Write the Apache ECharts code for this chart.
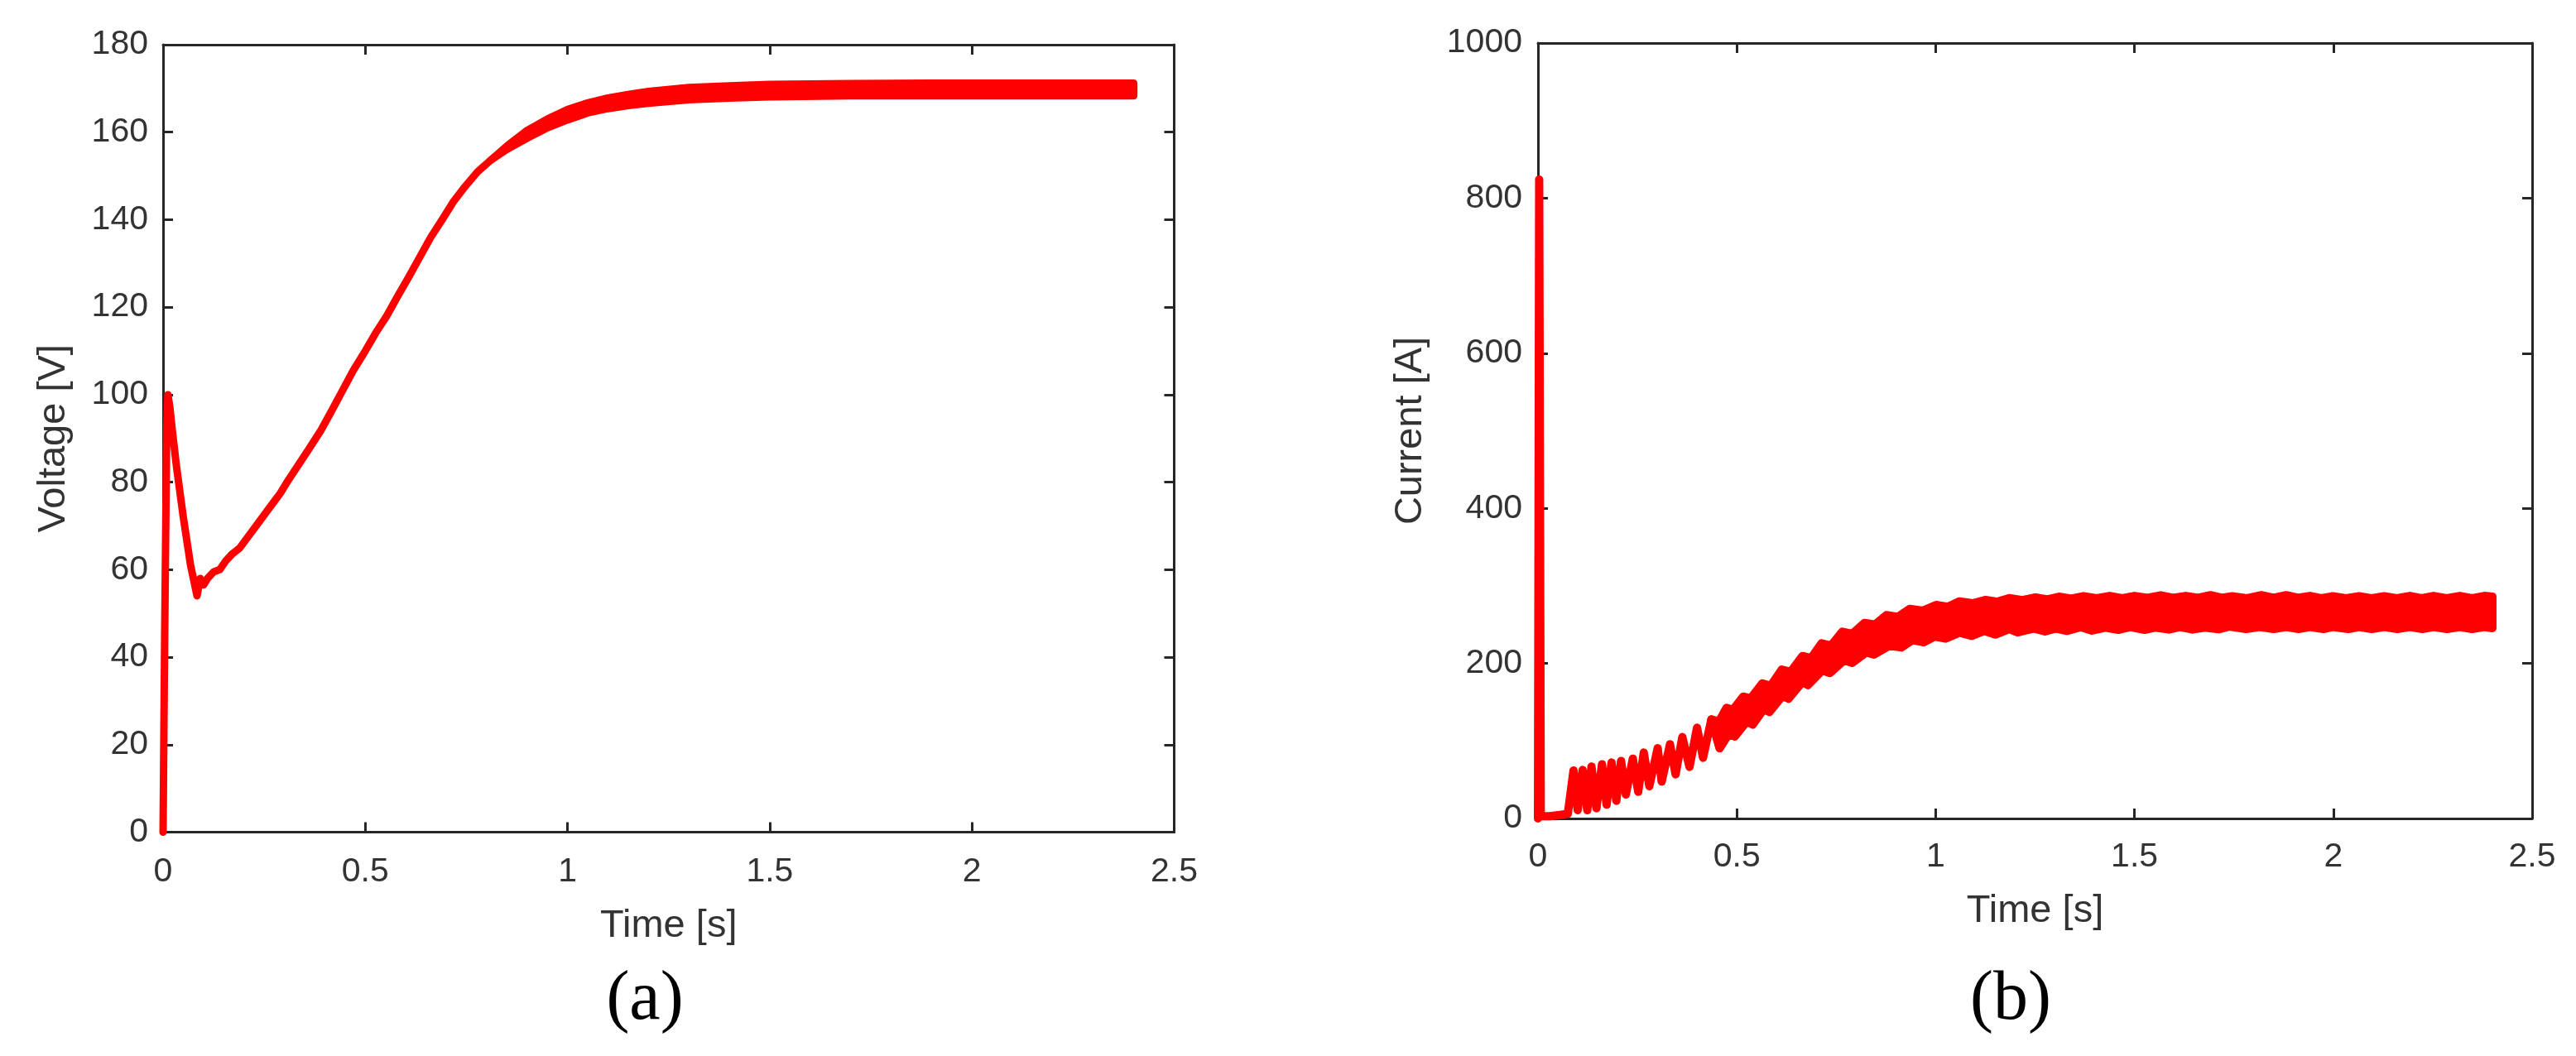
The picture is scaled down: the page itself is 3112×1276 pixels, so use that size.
<!DOCTYPE html>
<html><head><meta charset="utf-8">
<script src="https://cdn.jsdelivr.net/npm/echarts@6/dist/echarts.min.js"></script>
<style>html,body{margin:0;padding:0;background:#fff;} #c{width:3112px;height:1276px;}</style>
</head><body><div id="c"></div>
<script>
// ---- tick labels ----
const timeTicks = [0, 0.5, 1, 1.5, 2, 2.5];
const voltageTicks = [0, 20, 40, 60, 80, 100, 120, 140, 160, 180];
const currentTicks = [0, 200, 400, 600, 800, 1000];

// ---- (a) voltage, centre line ----
const voltT = [0, 0.004, 0.009, 0.012, 0.017, 0.022, 0.033, 0.05, 0.068, 0.084, 0.092, 0.1, 0.11, 0.125, 0.14, 0.155, 0.17, 0.19, 0.21, 0.23, 0.25, 0.27, 0.29, 0.31, 0.335, 0.36, 0.39, 0.415, 0.444, 0.47, 0.5, 0.525, 0.553, 0.58, 0.608, 0.635, 0.662, 0.69, 0.717, 0.746, 0.778, 0.81, 0.851, 0.9, 0.955, 1.0, 1.059, 1.12, 1.195, 1.3, 1.4, 1.5, 1.7, 2.0, 2.4];
const voltV = [0, 45, 92, 100, 97, 92.5, 83.7, 72, 61, 54, 58, 56.5, 58, 59.5, 60, 62, 63.5, 65, 67.5, 70, 72.5, 75, 77.5, 80.5, 84, 87.5, 91.8, 96, 101, 105.5, 110, 114, 118, 122.5, 127, 131.5, 136, 140, 144, 147.5, 151, 153.6, 156.5, 159.5, 162, 164, 165.6, 167, 168, 168.8, 169.2, 169.5, 169.6, 169.7, 169.7];
// ---- (a) voltage ripple band ----
const voltBandT = [0.81, 0.851, 0.9, 0.95, 1.0, 1.05, 1.1, 1.15, 1.2, 1.3, 1.4, 1.5, 1.7, 1.9, 2.1, 2.3, 2.4];
const voltBandUp = [153.6, 156.9, 160.4, 163, 165.2, 166.7, 167.8, 168.6, 169.3, 170.2, 170.6, 170.9, 171.1, 171.2, 171.2, 171.2, 171.2];
const voltBandLo = [153.6, 156.1, 158.6, 161, 162.8, 164.4, 165.4, 166.1, 166.6, 167.4, 167.8, 168.1, 168.3, 168.3, 168.3, 168.3, 168.3];

// ---- (b) current: start-up spike and early oscillation ----
const curT = [0, 0.003, 0.007, 0.03, 0.055, 0.075, 0.0894, 0.0998, 0.1123, 0.124, 0.1345, 0.147, 0.161, 0.1726, 0.185, 0.197, 0.209, 0.221, 0.2385, 0.252, 0.266, 0.280, 0.301, 0.311, 0.332, 0.346, 0.363, 0.381, 0.400, 0.415, 0.436, 0.457];
const curV = [0, 824, 3, 3, 4.5, 6, 61.9, 10.7, 62.6, 10.7, 66.9, 13.2, 70, 17.8, 72.2, 22.8, 74.3, 31, 77.2, 34.5, 85, 41.6, 90.7, 47.7, 95.7, 56.9, 105, 66.5, 117, 78.3, 127.7, 90.7];
// ---- (b) current ripple band: upper envelope ----
const curUpT = [0.436, 0.455, 0.474, 0.49, 0.516, 0.535, 0.564, 0.585, 0.613, 0.635, 0.665, 0.687, 0.713, 0.737, 0.765, 0.79, 0.821, 0.847, 0.876, 0.905, 0.935, 0.968, 1.001, 1.03, 1.06, 1.093, 1.126, 1.155, 1.185, 1.218, 1.251, 1.28, 1.31, 1.341, 1.372, 1.405, 1.438, 1.469, 1.5, 1.533, 1.566, 1.597, 1.629, 1.66, 1.691, 1.72, 1.746, 1.783, 1.819, 1.85, 1.882, 1.911, 1.941, 1.97, 1.999, 2.032, 2.065, 2.096, 2.128, 2.16, 2.193, 2.222, 2.252, 2.285, 2.318, 2.349, 2.38, 2.4];
const curUpV = [127.7, 125, 142.7, 140, 157.2, 155, 174.3, 171, 192, 189, 209.5, 207, 225.9, 223, 240.8, 238, 252.2, 250, 262.2, 260, 270.4, 268, 275.3, 273, 280, 277.5, 281.8, 279.5, 284.2, 281.5, 285, 282.5, 286, 283.5, 286.7, 284, 287, 284, 287, 284.5, 287.8, 284.5, 287, 284.5, 288, 284.5, 286.5, 284, 288, 284.5, 288, 284.5, 287, 284, 286.5, 284, 286.5, 284, 286.5, 284, 287, 284, 287, 284, 287, 284, 287, 286];
// ---- (b) current ripple band: lower envelope ----
const curLoT = [0.457, 0.48, 0.495, 0.525, 0.540, 0.568, 0.582, 0.615, 0.630, 0.665, 0.679, 0.715, 0.734, 0.77, 0.790, 0.825, 0.845, 0.883, 0.914, 0.942, 0.970, 0.998, 1.025, 1.06, 1.091, 1.122, 1.150, 1.185, 1.206, 1.247, 1.275, 1.302, 1.33, 1.365, 1.393, 1.427, 1.459, 1.49, 1.525, 1.552, 1.587, 1.614, 1.646, 1.677, 1.712, 1.739, 1.781, 1.815, 1.850, 1.882, 1.913, 1.941, 1.975, 1.999, 2.038, 2.065, 2.097, 2.128, 2.161, 2.193, 2.224, 2.252, 2.286, 2.318, 2.349, 2.38, 2.4];
const curLoV = [90.7, 109, 105.7, 125, 121, 141, 137.3, 158, 154.4, 176, 172, 191, 187.5, 204, 200.6, 214, 211.3, 222.7, 220.6, 230.2, 227.3, 234.8, 231.9, 239.8, 235.5, 241.9, 237.2, 244.4, 240.1, 245.1, 241.2, 245.1, 241.9, 246.9, 242.3, 246.2, 243.3, 246.9, 243.3, 246.2, 243.7, 246.9, 243.7, 246.2, 244, 247.6, 244.4, 247, 244.4, 247, 244.4, 247, 244.4, 247, 244.4, 247, 244.4, 247, 244.4, 247, 244.4, 247, 244.4, 247, 244.4, 247, 245.5];

// ---- styling ----
const AX = '#262626', TXT = '#333333', RED = '#ff0000';
const SANS = '"Liberation Sans", Arial, Helvetica, sans-serif';
const SERIF = '"Liberation Serif", "Times New Roman", serif';

function zip(a, b) { return a.map((v, i) => [v, b[i]]); }

function valAxis(ticks, gi, pos, showLabel, margin, name, nameGap) {
  return {
    type: 'value', gridIndex: gi, position: pos,
    min: ticks[0], max: ticks[ticks.length - 1], interval: ticks[1] - ticks[0],
    axisLine: { show: true, onZero: false, lineStyle: { color: AX, width: 3 } },
    axisTick: { show: true, inside: true, length: 12, lineStyle: { color: AX, width: 3 } },
    axisLabel: { show: showLabel, margin: margin, fontFamily: SANS, fontSize: 41, color: TXT,
      showMinLabel: true, showMaxLabel: true, formatter: function (v) { return String(v); } },
    splitLine: { show: false },
    name: name || '', nameLocation: 'middle', nameGap: nameGap || 0,
    nameTextStyle: { fontFamily: SANS, fontSize: 47, color: TXT }
  };
}

function bandSeries(xi, yi, upT, upV, loT, loV, w) {
  return {
    type: 'custom', xAxisIndex: xi, yAxisIndex: yi, z: 3,
    data: [[upT[0], upV[0]]],
    renderItem: function (params, api) {
      const pts = [];
      for (let i = 0; i < upT.length; i++) pts.push(api.coord([upT[i], upV[i]]));
      for (let i = loT.length - 1; i >= 0; i--) pts.push(api.coord([loT[i], loV[i]]));
      return { type: 'polygon', shape: { points: pts },
        style: { fill: RED, stroke: RED, lineWidth: w, lineJoin: 'round' } };
    }
  };
}

const chart = echarts.init(document.getElementById('c'), null, { renderer: 'canvas' });
chart.setOption({
  animation: false,
  backgroundColor: '#ffffff',
  grid: [
    { left: 197, top: 54, width: 1221.5, height: 951.5 },
    { left: 1858, top: 52, width: 1201, height: 937 }
  ],
  xAxis: [
    valAxis(timeTicks, 0, 'bottom', true, 28, 'Time [s]', 90),
    valAxis(timeTicks, 0, 'top', false, 8),
    valAxis(timeTicks, 1, 'bottom', true, 26, 'Time [s]', 88.5),
    valAxis(timeTicks, 1, 'top', false, 8)
  ],
  yAxis: [
    valAxis(voltageTicks, 0, 'left', true, 18, 'Voltage [V]', 108),
    valAxis(voltageTicks, 0, 'right', false, 8),
    valAxis(currentTicks, 1, 'left', true, 19, 'Current [A]', 130),
    valAxis(currentTicks, 1, 'right', false, 8)
  ],
  series: [
    { type: 'line', xAxisIndex: 0, yAxisIndex: 0, data: zip(voltT, voltV), showSymbol: false, clip: false, z: 3,
      lineStyle: { color: RED, width: 9, join: 'round', cap: 'round' } },
    bandSeries(0, 0, voltBandT, voltBandUp, voltBandT, voltBandLo, 9),
    { type: 'line', xAxisIndex: 2, yAxisIndex: 2, data: zip(curT, curV), showSymbol: false, clip: false, z: 3,
      lineStyle: { color: RED, width: 10, join: 'round', cap: 'round' } },
    bandSeries(2, 2, curUpT, curUpV, curLoT, curLoV, 10)
  ],
  graphic: [
    { type: 'text', x: 779, y: 1209, style: { text: '(a)', fontFamily: SERIF, fontSize: 84, fill: '#000', align: 'center', verticalAlign: 'middle' } },
    { type: 'text', x: 2429, y: 1209, style: { text: '(b)', fontFamily: SERIF, fontSize: 84, fill: '#000', align: 'center', verticalAlign: 'middle' } }
  ]
});
</script>
</body></html>
